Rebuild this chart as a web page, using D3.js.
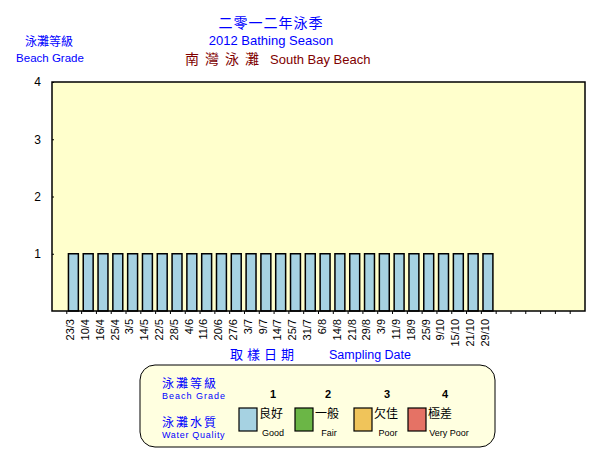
<!DOCTYPE html>
<html lang="zh-Hant">
<head>
<meta charset="utf-8">
<title>South Bay Beach 2012</title>
<script src="https://d3js.org/d3.v7.min.js"></script>
<style>
  body { margin: 0; background: #fff; font-family: "Liberation Sans", Arial, "Noto Sans CJK TC", sans-serif; }
  svg text { font-family: "Liberation Sans", Arial, "Noto Sans CJK TC", sans-serif; }
</style>
</head>
<body>
<div id="chart"></div>
<script>
// sampling dates and beach grade for each
const dates = ["23/3","10/4","16/4","25/4","3/5","14/5","22/5","28/5","4/6","11/6","20/6","27/6",
  "3/7","9/7","14/7","25/7","31/7","6/8","14/8","21/8","29/8","3/9","11/9","18/9","25/9",
  "9/10","15/10","21/10","29/10"];
const grades = [1,1,1,1,1,1,1,1,1,1,1,1,1,1,1,1,1,1,1,1,1,1,1,1,1,1,1,1,1];
const yTicks = [1,2,3,4];
const gradeNums = ["1","2","3","4"];
const gradeZh = ["良好","一般","欠佳","極差"];
const gradeEn = ["Good","Fair","Poor","Very Poor"];
const gradeColors = ["#a6d2e2","#6bb646","#f0c45a","#e57265"];

// one empty slot before, six after
const slots = [""].concat(dates, ["","","","","",""]);
const slotIdx = slots.map((d, i) => i);

const width = 602, height = 452;
const pLeft = 52, pRight = 585, pTop = 82, pBottom = 311;
const cjk = "Noto Sans CJK TC";

const svg = d3.select("#chart").append("svg")
  .attr("width", width).attr("height", height);

const x = d3.scaleBand().domain(slotIdx).range([pLeft, pRight]).padding(0);
const y = d3.scaleLinear().domain([0, 4]).range([pBottom, pTop]);

// titles
svg.append("text").attr("x", 271).attr("y", 28).attr("text-anchor", "middle")
  .attr("fill", "#0000ff").style("font-size", "14px").style("font-family", cjk)
  .style("letter-spacing", "1px").text("二零一二年泳季");
svg.append("text").attr("x", 271).attr("y", 45).attr("text-anchor", "middle")
  .attr("fill", "#0000ff").style("font-size", "13px").text("2012 Bathing Season");
const t3 = svg.append("text").attr("x", 185).attr("y", 64)
  .attr("fill", "#800000").style("font-size", "13px");
t3.append("tspan").style("font-family", cjk).style("font-size", "14px")
  .style("letter-spacing", "6px").text("南灣泳灘");
t3.append("tspan").attr("dx", 5).text("South Bay Beach");

svg.append("text").attr("x", 49).attr("y", 46).attr("text-anchor", "middle")
  .attr("fill", "#0000ff").style("font-size", "12px").style("font-family", cjk)
  .text("泳灘等級");
svg.append("text").attr("x", 50).attr("y", 62).attr("text-anchor", "middle")
  .attr("fill", "#0000ff").style("font-size", "11.5px").text("Beach Grade");

// plot background
svg.append("rect").attr("x", pLeft).attr("y", pTop)
  .attr("width", pRight - pLeft).attr("height", pBottom - pTop)
  .attr("fill", "#ffffcc");

// y axis
const yAxis = svg.append("g").attr("transform", `translate(${pLeft},0)`)
  .call(d3.axisLeft(y).tickValues(yTicks).tickSize(2).tickFormat(d3.format("d")));
yAxis.select(".domain").remove();
yAxis.selectAll("text").style("font-size", "12px").attr("fill", "#000").attr("dx", "-6px");
yAxis.selectAll("line").attr("stroke", "#000").attr("x2", 2);

// bars
svg.append("g").selectAll("rect")
  .data(grades)
  .enter().append("rect")
  .attr("x", (d, i) => x(i + 1) + x.step() * 0.11)
  .attr("y", d => y(d))
  .attr("width", x.step() * 0.67)
  .attr("height", d => y(0) - y(d))
  .attr("fill", "#a6d2e2")
  .attr("stroke", "#000").attr("stroke-width", 1.5);

// x ticks between slots
svg.append("g").selectAll("line")
  .data(slotIdx.slice(1))
  .enter().append("line")
  .attr("x1", d => x(d)).attr("x2", d => x(d))
  .attr("y1", pBottom).attr("y2", pBottom + 3)
  .attr("stroke", "#000");

// x labels
svg.append("g").selectAll("text")
  .data(dates)
  .enter().append("text")
  .attr("transform", (d, i) => `translate(${x(i + 1) + x.step() / 2},319) rotate(-90)`)
  .attr("text-anchor", "end")
  .style("font-size", "11px")
  .text(d => d);

// plot frame
svg.append("rect").attr("x", pLeft).attr("y", pTop)
  .attr("width", pRight - pLeft).attr("height", pBottom - pTop)
  .attr("fill", "none").attr("stroke", "#000").attr("stroke-width", 1.5);

// x axis title
svg.append("text").attr("x", 230).attr("y", 359)
  .attr("fill", "#0000ff").style("font-size", "13px").style("font-family", cjk)
  .style("letter-spacing", "4px").text("取樣日期");
svg.append("text").attr("x", 329).attr("y", 359)
  .attr("fill", "#0000ff").style("font-size", "12.5px").text("Sampling Date");

// legend
const lg = svg.append("g");
lg.append("rect").attr("x", 140).attr("y", 365).attr("width", 355).attr("height", 82)
  .attr("rx", 15).attr("ry", 15)
  .attr("fill", "#ffffe0").attr("stroke", "#000").attr("stroke-width", 1);
lg.append("text").attr("x", 162).attr("y", 388).attr("fill", "#0000ff")
  .style("font-size", "12px").style("font-family", cjk).style("letter-spacing", "2px").text("泳灘等級");
lg.append("text").attr("x", 162).attr("y", 399).attr("fill", "#0000ff")
  .style("font-size", "9px").style("letter-spacing", "1px").text("Beach Grade");
lg.append("text").attr("x", 162).attr("y", 427).attr("fill", "#0000ff")
  .style("font-size", "12px").style("font-family", cjk).style("letter-spacing", "2px").text("泳灘水質");
lg.append("text").attr("x", 162).attr("y", 438).attr("fill", "#0000ff")
  .style("font-size", "9px").style("letter-spacing", "0.7px").text("Water Quality");

const lx = [239, 295, 354, 408];
const numDx = [34, 33, 33, 37];
const enDx = [34, 34, 34, 41];
const items = lg.selectAll("g.item").data(gradeNums).enter().append("g").attr("class", "item");
items.append("text").attr("x", (d, i) => lx[i] + numDx[i]).attr("y", 398).attr("text-anchor", "middle")
  .style("font-size", "11px").style("font-weight", "bold").text(d => d);
items.append("rect").attr("x", (d, i) => lx[i]).attr("y", 408).attr("width", 18).attr("height", 23)
  .attr("fill", (d, i) => gradeColors[i]).attr("stroke", "#000").attr("stroke-width", 1.2);
items.append("text").attr("x", (d, i) => lx[i] + 20).attr("y", 418)
  .style("font-size", "12px").style("font-family", cjk).text((d, i) => gradeZh[i]);
items.append("text").attr("x", (d, i) => lx[i] + enDx[i]).attr("y", 436).attr("text-anchor", "middle")
  .style("font-size", "9px").text((d, i) => gradeEn[i]);
</script>
</body>
</html>
